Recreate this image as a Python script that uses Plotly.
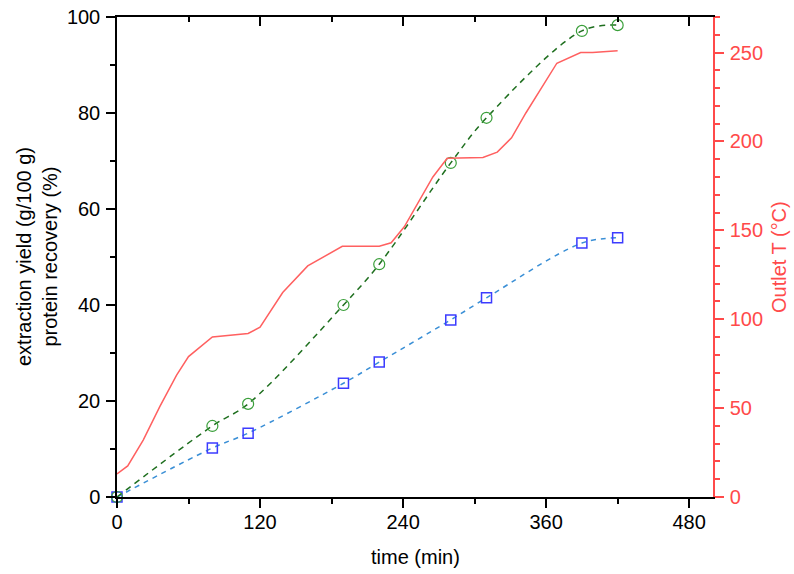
import plotly.graph_objects as go

# Extraction yield / protein recovery (left axis)
t_points = [0, 80, 110, 190, 220, 280, 310, 390, 420]
extraction_yield = [0, 14.8, 19.4, 40.0, 48.5, 69.6, 79.0, 97.1, 98.3]
protein_recovery = [0, 10.2, 13.3, 23.7, 28.1, 36.9, 41.5, 52.9, 54.0]

# Outlet temperature (right axis)
t_temp = [0, 9, 22, 36, 50, 60, 80, 110, 120, 139, 160, 189, 220, 230, 241,
          254, 265, 277, 307, 319, 331, 343, 361, 369, 389, 399, 420]
outlet_T = [13, 17.5, 32, 51, 68.5, 79, 90, 92, 95.5, 115, 130, 141, 141, 143, 152,
            167, 180, 190.5, 191, 194, 202, 216, 235, 244, 250, 250, 251]

x_ticks = [0, 120, 240, 360, 480]

FONT = "Liberation Sans, Arial, sans-serif"
RED = "#ff4a4a"
FS = 20

fig = go.Figure()

fig.add_trace(go.Scatter(
    x=t_temp, y=outlet_T, mode="lines", yaxis="y2",
    line=dict(color="#ff6060", width=1.5), showlegend=False, cliponaxis=False))

fig.add_trace(go.Scatter(
    x=t_points, y=protein_recovery, mode="lines+markers", line_shape="spline",
    line=dict(color="#3a8fd6", width=1.5, dash="5px,5px"),
    marker=dict(symbol="square-open", size=10, color="#3c3cff", line=dict(width=1.5)),
    showlegend=False, cliponaxis=False))

fig.add_trace(go.Scatter(
    x=t_points, y=extraction_yield, mode="lines+markers", line_shape="spline",
    line=dict(color="#1f6f1f", width=1.5, dash="6px,5px"),
    marker=dict(symbol="circle-open", size=11, color="#3a9f3a", line=dict(width=1.2)),
    showlegend=False, cliponaxis=False))

# invisible trace to anchor the top mirror axis
fig.add_trace(go.Scatter(x=[0], y=[0], xaxis="x2", mode="markers",
                         marker=dict(opacity=0), hoverinfo="skip", showlegend=False))

fig.update_layout(
    width=794, height=574,
    margin=dict(l=117, r=81, t=17, b=77),
    paper_bgcolor="white", plot_bgcolor="white",
    font=dict(family=FONT, size=FS, color="black"),
    xaxis=dict(
        range=[0, 500], tickvals=x_ticks, ticks="outside", ticklen=9, tickwidth=1.5,
        tickcolor="black", showline=True, linecolor="black", linewidth=1.5,
        showgrid=False, zeroline=False, automargin=False, ticklabelstandoff=-3,
        ticklabeloverflow="allow",
        minor=dict(dtick=60, tick0=0, ticks="outside", ticklen=5, tickwidth=1.5, tickcolor="black"),
    ),
    xaxis2=dict(
        range=[0, 500], overlaying="x", side="top", anchor="y",
        tickvals=x_ticks, ticks="inside", ticklen=9, tickwidth=1.5, tickcolor="black",
        showticklabels=False, showline=True, linecolor="black", linewidth=1.5,
        showgrid=False, zeroline=False, automargin=False,
        minor=dict(dtick=60, tick0=0, ticks="inside", ticklen=5, tickwidth=1.5, tickcolor="black"),
    ),
    yaxis=dict(
        range=[0, 100], dtick=20, tick0=0, ticks="outside", ticklen=9, tickwidth=1.5,
        tickcolor="black", showline=True, linecolor="black", linewidth=1.5,
        showgrid=False, zeroline=False, automargin=False, ticklabelstandoff=2,
        ticklabeloverflow="allow",
        minor=dict(dtick=10, tick0=0, ticks="outside", ticklen=5, tickwidth=1.5, tickcolor="black"),
    ),
    yaxis2=dict(
        range=[0, 270], dtick=50, tick0=0, overlaying="y", side="right", anchor="x",
        ticks="outside", ticklen=9, tickwidth=1.5, tickcolor=RED,
        showline=True, linecolor=RED, linewidth=1.5, showgrid=False, zeroline=False,
        automargin=False, ticklabelstandoff=2, ticklabeloverflow="allow",
        tickfont=dict(color=RED, size=FS),
        minor=dict(dtick=10, tick0=0, ticks="outside", ticklen=5, tickwidth=1.5, tickcolor=RED),
    ),
    annotations=[
        dict(text="time (min)", xref="paper", yref="paper", x=0.5, y=0,
             xanchor="center", yanchor="middle", yshift=-60,
             showarrow=False, font=dict(color="black", size=FS)),
        dict(text="extraction yield (g/100 g)<br>protein recovery (%)",
             xref="paper", yref="paper", x=0, y=0.5,
             xanchor="center", yanchor="middle", xshift=-80, textangle=-90,
             showarrow=False, font=dict(color="black", size=FS)),
        dict(text="Outlet T (°C)", xref="paper", yref="paper", x=1, y=0.5,
             xanchor="center", yanchor="middle", xshift=66, textangle=-90,
             showarrow=False, font=dict(color=RED, size=FS)),
    ],
)

fig.write_html("out.html", config={"displayModeBar": False},
               post_script="document.body.style.margin='0';document.body.style.overflow='hidden';")
